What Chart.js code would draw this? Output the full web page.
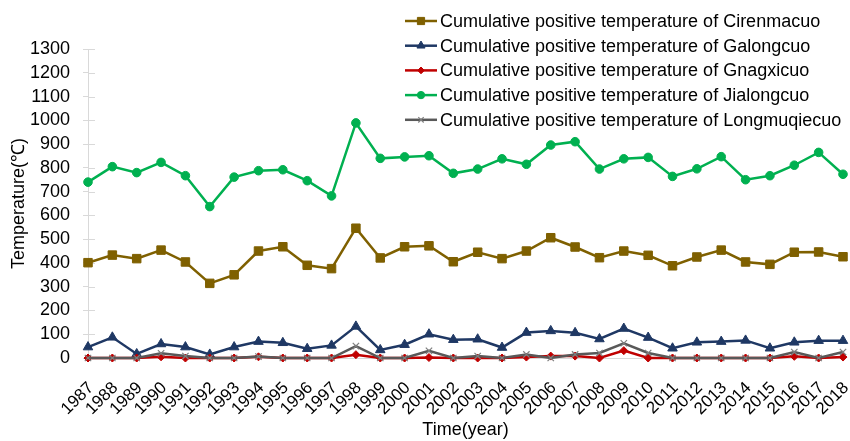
<!DOCTYPE html>
<html>
<head>
<meta charset="utf-8">
<script src="https://cdn.jsdelivr.net/npm/chart.js@4.4.0/dist/chart.umd.min.js"></script>
<style>
    html, body { margin: 0; padding: 0; background: #fff; }
    #wrap { width: 850px; height: 441px; position: relative; }
</style>
</head>
<body>
<div id="wrap"><canvas id="tempChart"></canvas></div>
<script>
// Cumulative positive temperature of five lakes, 1987-2018
const years = ["1987", "1988", "1989", "1990", "1991", "1992", "1993", "1994", "1995", "1996",
    "1997", "1998", "1999", "2000", "2001", "2002", "2003", "2004", "2005", "2006",
    "2007", "2008", "2009", "2010", "2011", "2012", "2013", "2014", "2015", "2016",
    "2017", "2018"];

const cirenmacuo = [401, 433, 418, 454, 404, 314, 350, 450, 468, 390,
    376, 546, 421, 468, 472, 405, 445, 418, 450, 506,
    467, 422, 450, 432, 388, 425, 454, 404, 394, 445,
    446, 426];

const galongcuo = [46, 87, 17, 59, 46, 15, 46, 69, 64, 39,
    53, 133, 34, 56, 100, 77, 79, 44, 107, 114,
    106, 80, 124, 86, 41, 66, 69, 74, 41, 66,
    73, 73];

const gnagxicuo = [0, 0, 0, 5, 0, 0, 0, 5, 0, 0,
    0, 14, 0, 0, 2, 0, 0, 0, 4, 8,
    8, 0, 31, 0, 0, 0, 0, 0, 0, 7,
    0, 4];

const jialongcuo = [740, 805, 780, 823, 767, 637, 761, 788, 792, 746,
    682, 989, 840, 846, 851, 777, 795, 838, 815, 896,
    910, 795, 838, 844, 764, 796, 847, 750, 767, 811,
    865, 773];

const longmuqiecuo = [0, 0, 0, 20, 8, 0, 0, 6, 0, 0,
    0, 50, 0, 0, 30, 0, 8, 0, 15, 0,
    15, 21, 62, 21, 0, 0, 0, 0, 0, 25,
    0, 25];

const yTicks = [0, 100, 200, 300, 400, 500, 600, 700, 800, 900, 1000, 1100, 1200, 1300];

const FONT = '"Liberation Sans", Arial, sans-serif';

// legend drawn inside the plot, top right, plus inner tick marks on the y axis
const lakeLegend = {
    id: "lakeLegend",
    beforeDatasetsDraw(chart) {
        const ctx = chart.ctx;
        const y = chart.scales.y;
        const left = chart.chartArea.left;
        ctx.save();
        ctx.strokeStyle = "#D9D9D9";
        ctx.lineWidth = 1;
        yTicks.forEach((v) => {
            const py = Math.round(y.getPixelForValue(v)) + 0.5;
            ctx.beginPath();
            ctx.moveTo(left, py);
            ctx.lineTo(left + 7, py);
            ctx.stroke();
        });
        ctx.restore();
    },
    afterDraw(chart) {
        const ctx = chart.ctx;
        ctx.save();
        ctx.font = "18px " + FONT;
        ctx.textBaseline = "middle";
        ctx.textAlign = "left";
        chart.data.datasets.forEach((ds, i) => {
            const y = 21 + i * 24.7;
            ctx.strokeStyle = ds.borderColor;
            ctx.lineWidth = 2.5;
            ctx.beginPath();
            ctx.moveTo(405, y);
            ctx.lineTo(437, y);
            ctx.stroke();
            ctx.fillStyle = ds.pointBackgroundColor;
            ctx.strokeStyle = ds.pointBorderColor;
            ctx.lineWidth = ds.pointBorderWidth;
            Chart.helpers.drawPoint(ctx, {
                pointStyle: ds.pointStyle,
                radius: ds.pointRadius * 0.85,
                borderWidth: ds.pointBorderWidth,
                rotation: 0,
            }, 421, y);
            ctx.fillStyle = "#000";
            ctx.fillText(ds.label, 440, y + 1);
        });
        ctx.restore();
    },
};

function series(label, data, color, style, radius, order, pointColor, pointBorderWidth) {
    return {
        label: label,
        data: data,
        borderColor: color,
        backgroundColor: color,
        borderWidth: 2.5,
        pointStyle: style,
        pointRadius: radius,
        pointHoverRadius: radius,
        pointBackgroundColor: pointColor || color,
        pointBorderColor: pointColor || color,
        pointBorderWidth: pointBorderWidth || 1,
        tension: 0,
        clip: false,
        order: order,
    };
}

const canvas = document.getElementById("tempChart");

new Chart(canvas, {
    type: "line",
    data: {
        labels: years,
        datasets: [
            series("Cumulative positive temperature of Cirenmacuo", cirenmacuo, "#7F6000", "rect", 6, 5),
            series("Cumulative positive temperature of Galongcuo", galongcuo, "#1F3864", "triangle", 5.5, 4),
            series("Cumulative positive temperature of Gnagxicuo", gnagxicuo, "#C00000", "rectRot", 4, 3),
            series("Cumulative positive temperature of Jialongcuo", jialongcuo, "#00B050", "circle", 4.3, 2),
            series("Cumulative positive temperature of Longmuqiecuo", longmuqiecuo, "#595959", "crossRot", 4.5, 1, "#7F7F7F", 1.2),
        ],
    },
    options: {
        responsive: true,
        maintainAspectRatio: false,
        animation: false,
        events: [],
        layout: {
            padding: { left: 0, right: 5, top: 49, bottom: 0 },
        },
        plugins: {
            legend: { display: false },
            tooltip: { enabled: false },
        },
        scales: {
            x: {
                type: "category",
                offset: false,
                grid: { display: false, drawTicks: true, tickLength: 4 },
                border: { display: true, color: "#D9D9D9", width: 1 },
                ticks: {
                    autoSkip: false,
                    minRotation: 45,
                    maxRotation: 45,
                    padding: 16,
                    labelOffset: 3,
                    color: "#000",
                    font: { family: FONT, size: 17 },
                },
                title: {
                    display: true,
                    text: "Time(year)",
                    color: "#000",
                    font: { family: FONT, size: 18 },
                    padding: { top: 1, bottom: 0 },
                },
                afterFit(scale) {
                    scale.height = 83;
                    scale.paddingLeft = 0;
                    scale.paddingRight = 0;
                },
            },
            y: {
                min: 0,
                max: 1300,
                afterBuildTicks(scale) {
                    scale.ticks = yTicks.map((v) => ({ value: v }));
                },
                grid: {
                    display: true,
                    drawOnChartArea: false,
                    drawTicks: true,
                    tickLength: 5,
                    color: "#D9D9D9",
                },
                border: { display: true, color: "#D9D9D9", width: 1 },
                ticks: {
                    autoSkip: false,
                    padding: 13,
                    color: "#000",
                    font: { family: FONT, size: 18 },
                    callback: (v) => String(v),
                },
                title: {
                    display: true,
                    text: "Temperature(℃)",
                    color: "#000",
                    font: { family: FONT, size: 18 },
                    padding: { top: 8, bottom: 4 },
                },
                afterFit(scale) {
                    scale.width = 88;
                    scale.paddingTop = 0;
                    scale.paddingBottom = 0;
                },
            },
        },
    },
    plugins: [lakeLegend],
});
</script>
</body>
</html>
